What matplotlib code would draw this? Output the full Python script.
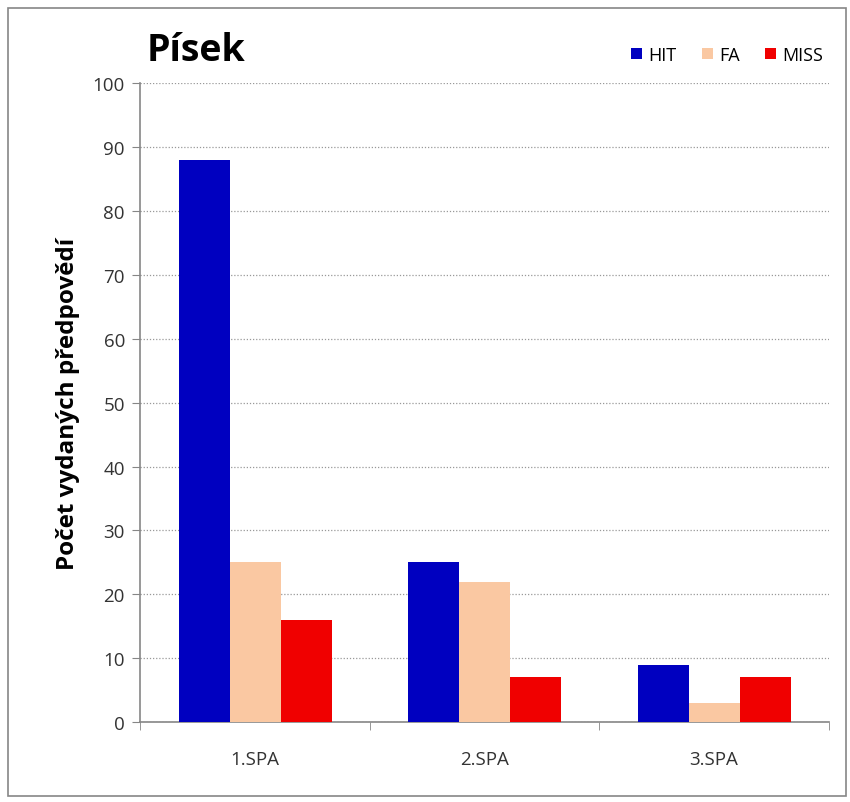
import matplotlib.pyplot as plt
from matplotlib.patches import Rectangle
import numpy as np

plt.rcParams['font.family'] = ['Open Sans', 'DejaVu Sans']

categories = ['1.SPA', '2.SPA', '3.SPA']
hit = [88, 25, 9]
fa = [25, 22, 3]
miss = [16, 7, 7]
series_names = ['HIT', 'FA', 'MISS']
colors = ['#0000C0', '#FAC8A2', '#F00000']

fig = plt.figure(figsize=(8.5, 8.03), dpi=100)
ax = fig.add_axes([0.165, 0.0996, 0.81, 0.7954])

# outer frame like the spreadsheet chart area
fig.patches.append(Rectangle((0.009, 0.007), 0.986, 0.982, transform=fig.transFigure,
                             fill=False, edgecolor='#868686', linewidth=1.2))

x = np.arange(len(categories))
w = 1 / 4.5
for i, (vals, name, c) in enumerate(zip([hit, fa, miss], series_names, colors)):
    ax.bar(x + (i - 1) * w, vals, w, color=c, label=name, zorder=3)

ax.set_xlim(-0.5, 2.5)
ax.set_ylim(0, 100)
ax.set_yticks(range(0, 101, 10))
ax.set_xticks(x)
ax.set_xticklabels(categories)
ax.set_xticks([-0.5, 0.5, 1.5, 2.5], minor=True)
ax.tick_params(axis='x', which='major', length=0, pad=20, labelsize=13.5, labelcolor='#333333')
ax.tick_params(axis='x', which='minor', length=6, color='#868686', direction='out')
ax.tick_params(axis='y', length=6, color='#868686', labelsize=13.5, labelcolor='#333333', pad=5)

ax.grid(axis='y', linestyle=(0, (1, 1.5)), color='#999999', linewidth=0.9, zorder=0)
for s in ['top', 'right']:
    ax.spines[s].set_visible(False)
for s in ['left', 'bottom']:
    ax.spines[s].set_color('#868686')
    ax.spines[s].set_linewidth(1.2)

ax.set_ylabel('Počet vydaných předpovědí', fontsize=17.5, fontweight='bold', labelpad=9)
fig.text(0.172, 0.937, 'Písek', fontsize=27, fontweight='bold', ha='left', va='center')

ax.legend(loc='lower right', bbox_to_anchor=(1.015, 1.005), ncol=3, frameon=False,
          handlelength=0.6, handleheight=0.6, handletextpad=0.35, columnspacing=1.4,
          fontsize=13)

fig.savefig('out.png', dpi=100)
